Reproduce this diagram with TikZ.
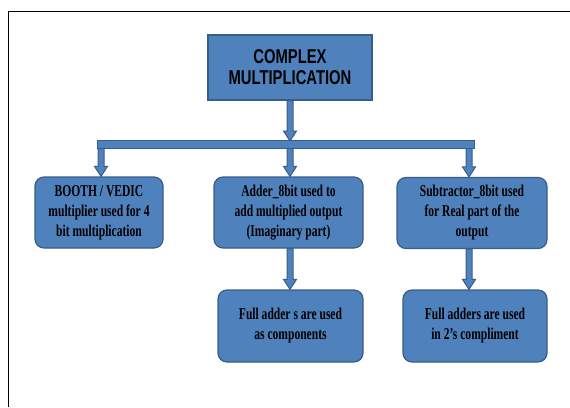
\documentclass[tikz,border=0pt]{standalone}
\usepackage{fontspec}
\usetikzlibrary{calc}
\newfontfamily\headfont[FakeStretch=0.74]{Liberation Sans}
\newfontfamily\boxfont[FakeStretch=0.7]{Liberation Serif}
\definecolor{boxfill}{HTML}{4F81BD}
\definecolor{boxedge}{HTML}{385D8A}

\tikzset{
        block/.style = {draw=boxedge, fill=boxfill, line width=1.2pt, align=center, inner sep=0pt},
        headbox/.style = {block, minimum width=164, minimum height=65,
            font=\headfont\bfseries\fontsize{20}{21}\selectfont},
        stepbox/.style = {block, rounded corners=9pt, minimum height=71,
            font=\boxfont\bfseries\fontsize{16.5}{20}\selectfont},
        flow/.style = {draw=boxedge, fill=boxfill, line width=1pt}
    }

% block arrow pointing down, from #1 to #2
\newcommand{\blockarrow}[2]{%
    \draw[flow] let \p1 = (#1), \p2 = (#2) in
        (\x1-3pt,\y1) -- (\x1-3pt,\y2+10pt) -- (\x1-6.5pt,\y2+10pt) -- (\x1,\y2)
        -- (\x1+6.5pt,\y2+10pt) -- (\x1+3pt,\y2+10pt) -- (\x1+3pt,\y1) -- cycle;
}

\begin{document}
\begin{tikzpicture}[x=1pt, y=-1pt]
            \useasboundingbox (0,0) rectangle (570,407);
            \draw[line width=1.5pt] (8.5,407) -- (8.5,11.5) -- (570,11.5);

            \node[headbox] (cmplx) at (290,67.5) {COMPLEX\\MULTIPLICATION};

            \node[stepbox, minimum width=128] (booth) at (99,212.5)
                {BOOTH / VEDIC\\multiplier used for 4\\bit multiplication};
            \node[stepbox, minimum width=149] (adder) at (288.5,212.5)
                {Adder\_8bit used to\\add multiplied output\\(Imaginary part)};
            \node[stepbox, minimum width=150] (subtr) at (472,213)
                {Subtractor\_8bit used\\for Real part of the\\output};

            \node[stepbox, minimum width=145, minimum height=72] (fulladd) at (290.5,326)
                {Full adder s are used\\as components};
            \node[stepbox, minimum width=144, minimum height=72] (fullsub) at (475,326)
                {Full adders are used\\in 2’s compliment};

            \coordinate (bartop) at (285.5,141);
            \coordinate (barbot) at (285.5,146);
            \coordinate (col1) at (101,0);
            \coordinate (col2) at (290,0);
            \coordinate (col3) at (469,0);

            % arrows into the boxes
            \blockarrow{cmplx.south}{bartop}
            \foreach \c/\b in {col1/booth,col2/adder,col3/subtr} {
                \blockarrow{\c |- barbot}{\c |- \b.north}
            }
            \blockarrow{col2 |- adder.south}{col2 |- fulladd.north}
            \blockarrow{col3 |- subtr.south}{col3 |- fullsub.north}

            \node[flow, minimum width=377, minimum height=7.6, inner sep=0pt] (bar) at (285.5,144.5) {};

        \end{tikzpicture}
\end{document}
